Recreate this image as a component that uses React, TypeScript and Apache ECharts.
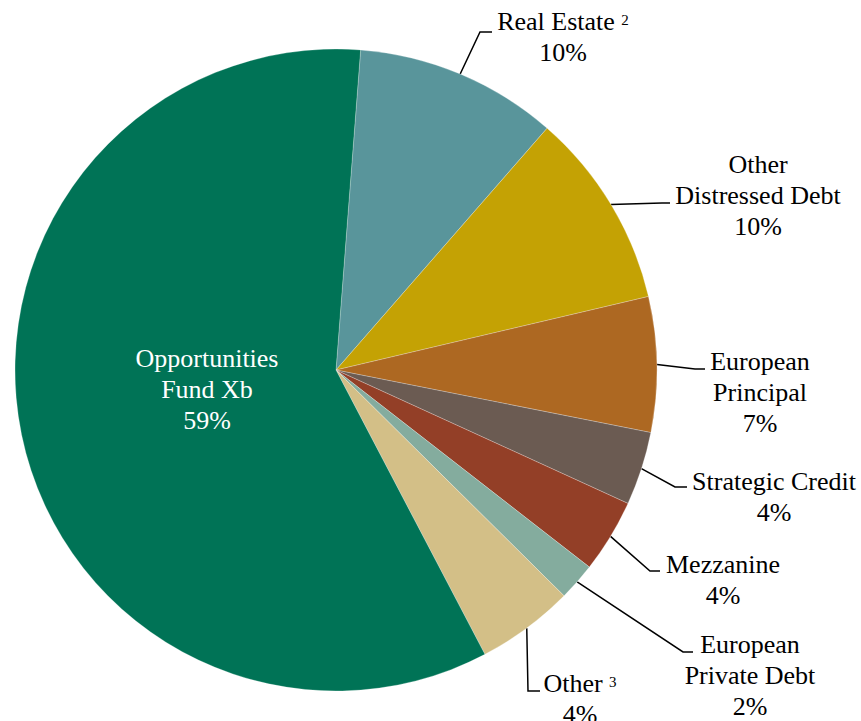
import React, { useEffect, useRef } from "react";
import * as echarts from "echarts";

const categories = [
  "Real Estate",
  "Other\nDistressed Debt",
  "European\nPrincipal",
  "Strategic Credit",
  "Mezzanine",
  "European\nPrivate Debt",
  "Other",
  "Opportunities\nFund Xb",
];
const footnotes = ["2", "", "", "", "", "", "3", ""];
const shares = [10.2, 9.9, 6.8, 3.7, 3.7, 1.9, 4.9, 58.9];
const shareLabels = ["10%", "10%", "7%", "4%", "4%", "2%", "4%", "59%"];
const colors = ["#59959B", "#C4A204", "#AD6822", "#6B5B52", "#933F27", "#84AC9E", "#D3BF87", "#007356"];

const FONT = "'Liberation Serif', 'Times New Roman', serif";

// label layout (positions of text blocks and leader-line elbows)
const CX = 336, CY = 370, R = 321, START = 85.6;
const labelPos: number[][] = [
  [563, 37], [758, 195], [760, 392], [774, 497], [723, 580], [750, 675], [580, 699], [207, 389],
];
const elbows: (number[][] | null)[] = [
  [[480, 32], [492, 32]],
  [[662, 203], [670, 203]],
  [[695, 369], [705, 369]],
  [[675, 487], [687, 487]],
  [[650, 571], [660, 571]],
  [[683, 652], [693, 652]],
  [[528, 691], [540, 691]],
  null,
];

function edgePoint(i: number): number[] {
  const total = shares.reduce((a, b) => a + b, 0);
  let cum = 0;
  for (let k = 0; k < i; k++) cum += shares[k];
  const mid = cum + shares[i] / 2;
  const theta = ((START - (mid / total) * 360) * Math.PI) / 180;
  return [CX + R * Math.cos(theta), CY - R * Math.sin(theta)];
}

function fmt(i: number): string {
  const lines = categories[i].split("\n");
  const out = lines.map((l, k) => {
    let s = `{t|${l}}`;
    if (k === lines.length - 1 && footnotes[i]) s += `{t| }{s|${footnotes[i]}}`;
    return s;
  });
  out.push(`{t|${shareLabels[i]}}`);
  return out.join("\n");
}

export default function App() {
  const ref = useRef<HTMLDivElement>(null);
  useEffect(() => {
    document.body.style.margin = "0";
    const chart = echarts.init(ref.current!, null, { renderer: "svg" });
    const data = categories.map((name, i) => {
      const inside = i === categories.length - 1;
      const c = inside ? "#ffffff" : "#000000";
      return {
        name,
        value: shares[i],
        itemStyle: { color: colors[i] },
        label: {
          position: inside ? "inside" : "outside",
          color: c,
          rich: {
            t: { fontFamily: FONT, fontSize: 26, lineHeight: 31, color: c },
            s: {
              fontFamily: FONT,
              fontSize: 15,
              lineHeight: 15,
              verticalAlign: "middle",
              padding: [0, 0, 3, 0],
              color: c,
            },
          },
        },
        labelLine: { show: !inside },
      };
    });
    chart.setOption({
      animation: false,
      backgroundColor: "#ffffff",
      textStyle: { fontFamily: FONT },
      series: [
        {
          type: "pie",
          center: [CX, CY],
          radius: [0, R],
          startAngle: START,
          clockwise: true,
          avoidLabelOverlap: false,
          data,
          itemStyle: { borderColor: "rgba(255,255,255,0.5)", borderWidth: 0.5 },
          label: {
            show: true,
            formatter: (p: any) => fmt(p.dataIndex),
            align: "center",
            fontFamily: FONT,
            fontSize: 26,
            lineHeight: 31,
          },
          labelLine: {
            show: true,
            length: 20,
            length2: 10,
            lineStyle: { color: "#000000", width: 1.5 },
          },
          labelLayout: (p: any) => {
            const i = p.dataIndex;
            const pos = labelPos[i];
            const res: any = { x: pos[0], y: pos[1], align: "center", verticalAlign: "middle" };
            const el = elbows[i];
            if (el) res.labelLinePoints = [edgePoint(i), el[0], el[1]];
            return res;
          },
        },
      ],
    });
    return () => chart.dispose();
  }, []);
  return <div ref={ref} style={{ width: 861, height: 721 }} />;
}
